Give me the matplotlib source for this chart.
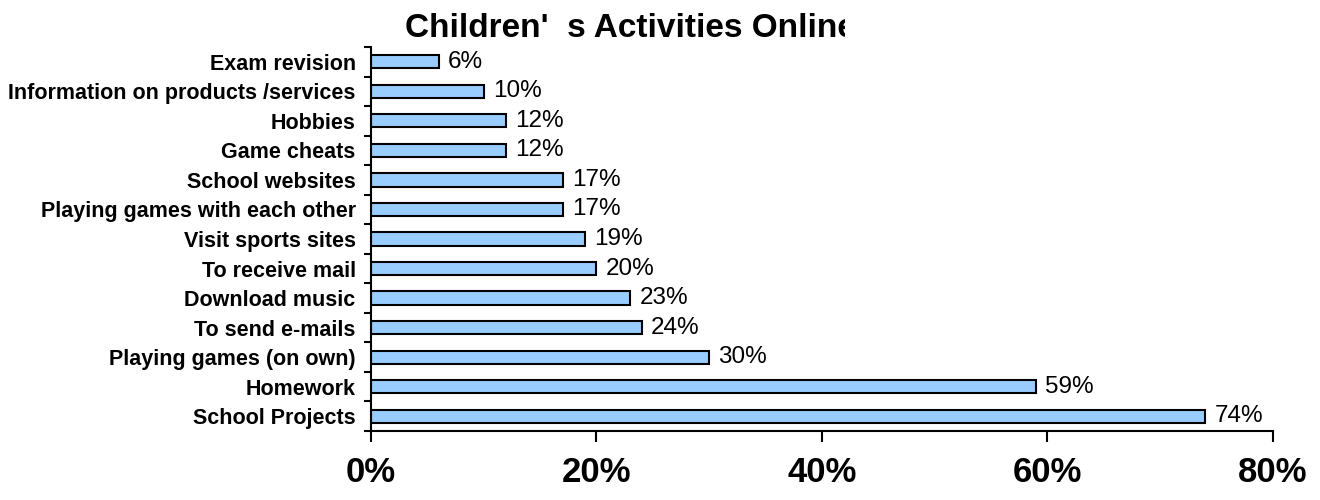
import numpy as np
import matplotlib
matplotlib.use("Agg")
import matplotlib.pyplot as plt
from matplotlib.patches import Rectangle

plt.rcParams['font.family'] = ['Liberation Sans', 'DejaVu Sans']

# data, bottom to top
activities = ["School Projects", "Homework", "Playing games (on own)",
              "To send e-mails", "Download music", "To receive mail",
              "Visit sports sites", "Playing games with each other",
              "School websites", "Game cheats", "Hobbies",
              "Information on products /services", "Exam revision"]
percent = [74, 59, 30, 24, 23, 20, 19, 17, 17, 12, 12, 10, 6]
x_ticks = [0, 20, 40, 60, 80]

fig = plt.figure(figsize=(13.2, 5.0), dpi=100)
ax = fig.add_axes([0.281, 0.138, 0.6834, 0.768])

y = np.arange(len(activities))
ax.barh(y, percent, height=0.45, color="#99CCFF", edgecolor="black", linewidth=1.5)

for yi, v in zip(y, percent):
    ax.text(v + 0.8, yi, f"{v}%", va="center", ha="left", fontsize=17.5)

ax.set_xlim(0, 80)
ax.set_ylim(-0.5, len(activities) - 0.5)

ax.set_xticks(x_ticks)
ax.set_xticklabels([f"{t}%" for t in x_ticks], fontsize=25, fontweight="bold")
ax.tick_params(axis="x", direction="out", length=8, width=1.5, pad=10)

ax.set_yticks(y)
ax.set_yticklabels(activities, fontsize=15.5, fontweight="bold")
ax.tick_params(axis="y", which="major", length=0, pad=11)
ax.set_yticks(np.arange(-0.5, len(activities)), minor=True)
ax.tick_params(axis="y", which="minor", direction="out", length=5, width=1.5)

for s in ["top", "right"]:
    ax.spines[s].set_visible(False)
for s in ["left", "bottom"]:
    ax.spines[s].set_linewidth(1.5)

# title, cut off on the right as in the original
fig.text(405 / 1320, 1 - 37 / 500, "Children'  s Activities Online",
         fontsize=24, fontweight="bold", ha="left", va="baseline", zorder=3)
fig.patches.append(Rectangle((845 / 1320, 1 - 44 / 500), 0.1, 44 / 500,
                             transform=fig.transFigure, facecolor="white",
                             edgecolor="none", zorder=10))

fig.savefig("out.png", dpi=100)
